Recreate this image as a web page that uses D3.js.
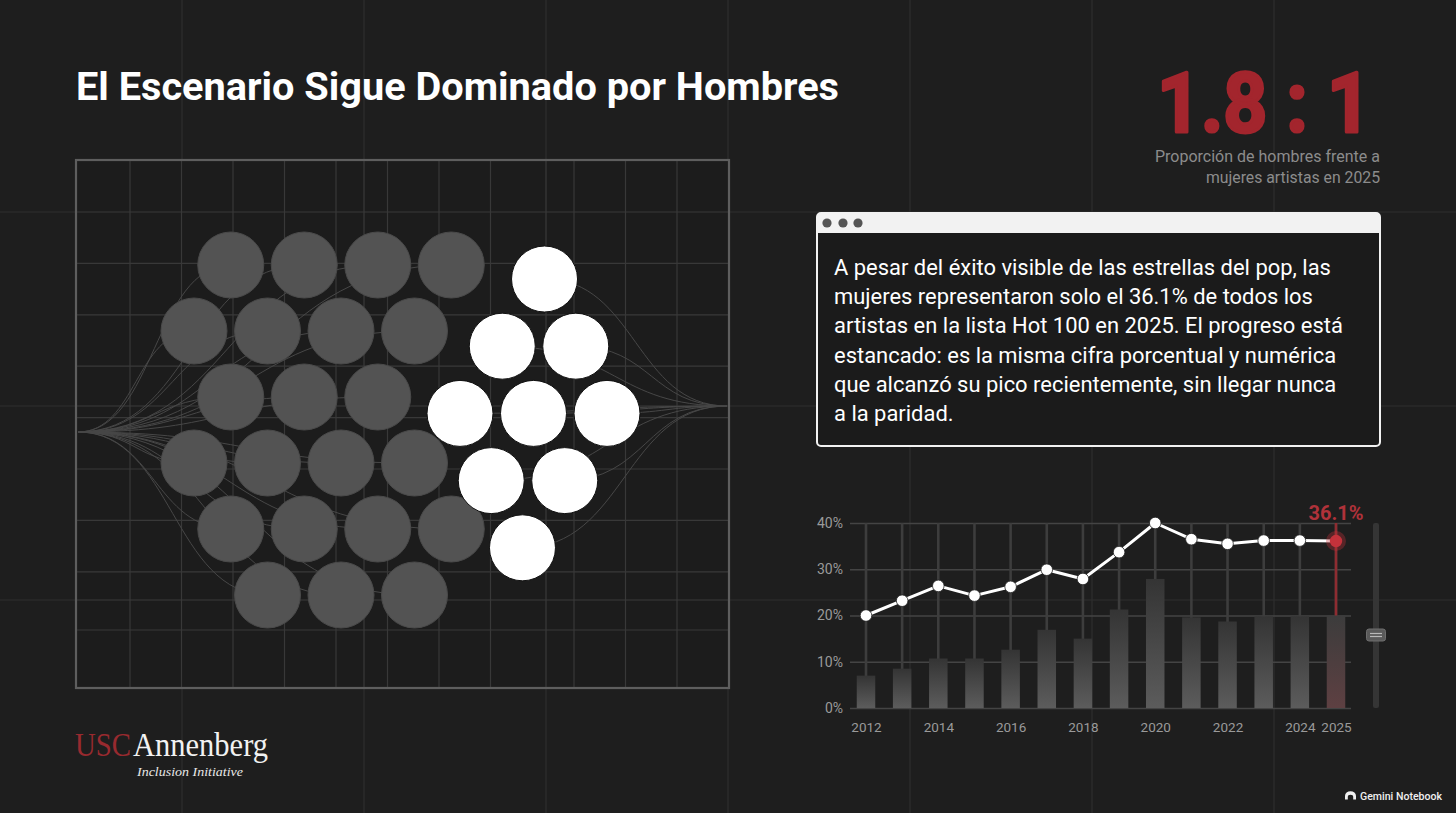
<!DOCTYPE html>
<html>
<head>
<meta charset="utf-8">
<script src="https://cdn.jsdelivr.net/npm/d3@7"></script>
<style>
  html, body { margin: 0; padding: 0; background: #1e1e1e; overflow: hidden; }
  svg { display: block; }
</style>
</head>
<body>
<svg id="chart" width="1456" height="813"></svg>
<script>
// ---- data ----
var years = [2012, 2013, 2014, 2015, 2016, 2017, 2018, 2019, 2020, 2021, 2022, 2023, 2024, 2025];
var womenShare = [20.0, 23.2, 26.4, 24.3, 26.2, 29.9, 27.9, 33.7, 40.0, 36.5, 35.5, 36.2, 36.2, 36.1];
var barValues = [7.0, 8.5, 10.7, 10.7, 12.6, 16.9, 15.0, 21.3, 27.9, 19.6, 18.7, 19.8, 19.8, 20.0];
var yTicks = [0, 10, 20, 30, 40];
var xTickYears = [2012, 2014, 2016, 2018, 2020, 2022, 2024, 2025];
var groupLabels = ["Hombres", "Mujeres"];
var groupDots = [22, 9];
var ratioLabel = "1.8 : 1";
var ratioNote = ["Proporción de hombres frente a", "mujeres artistas en 2025"];
var titleText = "El Escenario Sigue Dominado por Hombres";
var bodyLines = [
  "A pesar del éxito visible de las estrellas del pop, las",
  "mujeres representaron solo el 36.1% de todos los",
  "artistas en la lista Hot 100 en 2025. El progreso está",
  "estancado: es la misma cifra porcentual y numérica",
  "que alcanzó su pico recientemente, sin llegar nunca",
  "a la paridad."
];

var W = 1456, H = 813;
var svg = d3.select("#chart");
var defs = svg.append("defs");

svg.append("rect").attr("width", W).attr("height", H).attr("fill", "#1e1e1e");

// background page grid
var pageGrid = svg.append("g").attr("stroke", "#2e2e2e").attr("stroke-width", 1.2);
d3.range(182, W, 182).forEach(function(gx) {
  pageGrid.append("line").attr("x1", gx).attr("x2", gx).attr("y1", 0).attr("y2", H);
});
[212, 406, 600].forEach(function(gy) {
  pageGrid.append("line").attr("x1", 0).attr("x2", W).attr("y1", gy).attr("y2", gy);
});

// title
svg.append("text")
  .attr("x", 76).attr("y", 100)
  .attr("textLength", 763).attr("lengthAdjust", "spacingAndGlyphs")
  .style("font-family", "Roboto, 'Liberation Sans', sans-serif")
  .style("font-weight", 700).style("font-size", "38px")
  .attr("fill", "#ffffff")
  .text(titleText);

// ---- dot panel ----
var panel = svg.append("g");
panel.append("rect").attr("x", 76).attr("y", 160).attr("width", 653).attr("height", 528)
  .attr("fill", "#1c1c1c");
var innerGrid = panel.append("g").attr("stroke", "#383838").attr("stroke-width", 1.2);
d3.range(130, 500, 51.5).concat(d3.range(574, 720, 51.5)).forEach(function(gx) {
  innerGrid.append("line").attr("x1", gx).attr("x2", gx).attr("y1", 161).attr("y2", 687);
});
d3.range(212, 580, 51.4).concat([630]).forEach(function(gy) {
  innerGrid.append("line").attr("x1", 77).attr("x2", 728).attr("y1", gy).attr("y2", gy);
});
[364, 546].forEach(function(gx) {
  innerGrid.append("line").attr("x1", gx).attr("x2", gx).attr("y1", 161).attr("y2", 687).attr("stroke", "#3a3a3a");
});
[406, 600].forEach(function(gy) {
  innerGrid.append("line").attr("x1", 77).attr("x2", 728).attr("y1", gy).attr("y2", gy).attr("stroke", "#3a3a3a");
});

// hex-like lattice layouts for each group (rows: capacity, start column)
var layouts = [
  { rows: [[4, 1], [4, 0], [3, 1], [4, 0], [4, 1], [3, 2]], skew: 0,
    x: d3.scaleLinear().domain([0, 1]).range([194, 230.75]),
    y: d3.scaleLinear().domain([0, 1]).range([265, 331]) },
  { rows: [[1, 2], [2, 1], [3, 0], [2, 1], [1, 2]], skew: -0.15,
    x: d3.scaleLinear().domain([0, 1]).range([460, 496.75]),
    y: d3.scaleLinear().domain([0, 1]).range([279, 346.2]) }
];
var dots = [];
groupDots.forEach(function(n, gi) {
  var lay = layouts[gi], k = 0;
  lay.rows.forEach(function(row, ri) {
    for (var c = 0; c < row[0] && k < n; c++, k++) {
      var col = row[1] + 2 * c + lay.skew * (ri - 2);
      dots.push({ group: groupLabels[gi], gi: gi, cx: lay.x(col), cy: lay.y(ri) });
    }
  });
});

// flow lines behind the dots
var link = d3.linkHorizontal();
var flows = panel.append("g").attr("fill", "none").attr("stroke", "#474747").attr("stroke-width", 1);
dots.forEach(function(d) {
  var src = d.gi === 0 ? [78, 432] : [d.cx, d.cy];
  var dst = d.gi === 0 ? [d.cx, d.cy] : [727, 406];
  flows.append("path").attr("d", link({ source: src, target: dst }));
});

panel.selectAll("circle.dot").data(dots).enter().append("circle")
  .attr("class", "dot")
  .attr("cx", function(d) { return d.cx; })
  .attr("cy", function(d) { return d.cy; })
  .attr("r", 33)
  .attr("fill", function(d) { return d.gi === 0 ? "#535353" : "#ffffff"; })
  .attr("stroke", function(d) { return d.gi === 0 ? "#4a4a4a" : "#111"; })
  .attr("stroke-width", 1);

panel.append("rect").attr("x", 76).attr("y", 160).attr("width", 653).attr("height", 528)
  .attr("fill", "none").attr("stroke", "#5e5e5e").attr("stroke-width", 2.2);

// ---- ratio ----
svg.append("text")
  .attr("x", 1371).attr("y", 132).attr("text-anchor", "end")
  .attr("textLength", 214).attr("lengthAdjust", "spacingAndGlyphs")
  .style("font-family", "Roboto, 'Liberation Sans', sans-serif")
  .style("font-weight", 700).style("font-size", "84px")
  .attr("fill", "#a3252d").attr("stroke", "#a3252d").attr("stroke-width", 3.2)
  .attr("stroke-linejoin", "round")
  .text(ratioLabel);
var noteWidths = [225, 174];
ratioNote.forEach(function(t, i) {
  svg.append("text")
    .attr("x", 1380).attr("y", 162 + i * 20.5).attr("text-anchor", "end")
    .attr("textLength", noteWidths[i]).attr("lengthAdjust", "spacingAndGlyphs")
    .style("font-family", "Roboto, sans-serif").style("font-size", "16.5px")
    .attr("fill", "#8c8c8c")
    .text(t);
});

// ---- text card ----
var card = svg.append("g");
card.append("rect").attr("x", 817).attr("y", 213).attr("width", 563).attr("height", 233)
  .attr("rx", 4).attr("fill", "#1b1b1b").attr("stroke", "#f2f2f2").attr("stroke-width", 2);
card.append("path")
  .attr("d", "M817,233 V217 a4,4 0 0 1 4,-4 H1376 a4,4 0 0 1 4,4 V233 Z")
  .attr("fill", "#f2f2f2");
[827, 843, 858].forEach(function(cx) {
  card.append("circle").attr("cx", cx).attr("cy", 223).attr("r", 4.6).attr("fill", "#555");
});
var bodyG = card.append("g");
var bodyText = bodyG.selectAll("text").data(bodyLines).enter().append("text")
  .attr("x", 0).attr("y", function(d, i) { return 275 + i * 29.2; })
  .style("font-family", "Roboto, sans-serif").style("font-size", "21.5px")
  .attr("fill", "#ffffff")
  .text(function(d) { return d; });
var w1 = bodyText.node().getComputedTextLength();
bodyG.attr("transform", "translate(834,0) scale(" + (497 / w1) + ",1)");

// ---- line + bar chart ----
var x = d3.scaleLinear().domain([2012, 2025]).range([866, 1336]);
var y = d3.scaleLinear().domain([0, 40]).range([708, 523]);
var chart = svg.append("g");

var yAxis = chart.append("g").attr("transform", "translate(850,0)")
  .call(d3.axisLeft(y).tickValues(yTicks).tickSize(-501).tickPadding(7)
    .tickFormat(function(d) { return d + "%"; }));
yAxis.select(".domain").remove();
yAxis.selectAll(".tick line").attr("stroke", "#444").attr("stroke-width", 1.5);
yAxis.selectAll(".tick text").attr("fill", "#9a9a9a")
  .style("font-family", "Roboto, sans-serif").style("font-size", "14px");

// vertical year rails
chart.append("g").selectAll("line").data(years).enter().append("line")
  .attr("x1", function(d) { return x(d); }).attr("x2", function(d) { return x(d); })
  .attr("y1", y(40)).attr("y2", y(0))
  .attr("stroke", "#3d3d3d").attr("stroke-width", 2.6);

var grad = defs.append("linearGradient").attr("id", "barGrad").attr("x1", 0).attr("x2", 0).attr("y1", 0).attr("y2", 1);
grad.append("stop").attr("offset", "0%").attr("stop-color", "#343434");
grad.append("stop").attr("offset", "100%").attr("stop-color", "#5c5c5c");
var gradR = defs.append("linearGradient").attr("id", "barGradRed").attr("x1", 0).attr("x2", 0).attr("y1", 0).attr("y2", 1);
gradR.append("stop").attr("offset", "0%").attr("stop-color", "#3c3c3c");
gradR.append("stop").attr("offset", "100%").attr("stop-color", "#5e4042");

var bw = 18.5;
chart.append("g").selectAll("rect").data(years).enter().append("rect")
  .attr("x", function(d) { return x(d) - bw / 2; })
  .attr("y", function(d, i) { return y(barValues[i]); })
  .attr("width", bw)
  .attr("height", function(d, i) { return y(0) - y(barValues[i]); })
  .attr("fill", function(d, i) { return i === years.length - 1 ? "url(#barGradRed)" : "url(#barGrad)"; });

var last = years.length - 1;
chart.append("line")
  .attr("x1", x(years[last])).attr("x2", x(years[last]))
  .attr("y1", y(40)).attr("y2", y(barValues[last]))
  .attr("stroke", "#8e2c31").attr("stroke-width", 2.6);

var xAxis = chart.append("g").attr("transform", "translate(0,708)")
  .call(d3.axisBottom(x).tickValues(xTickYears).tickSize(0).tickPadding(14).tickFormat(d3.format("d")));
xAxis.select(".domain").remove();
xAxis.selectAll(".tick text").attr("fill", "#9a9a9a")
  .style("font-family", "Roboto, sans-serif").style("font-size", "13.5px");

var line = d3.line()
  .x(function(d, i) { return x(years[i]); })
  .y(function(d) { return y(d); });
chart.append("path").datum(womenShare)
  .attr("d", line).attr("fill", "none")
  .attr("stroke", "#ffffff").attr("stroke-width", 3).attr("stroke-linejoin", "round");

chart.append("g").selectAll("circle").data(womenShare.slice(0, last)).enter().append("circle")
  .attr("cx", function(d, i) { return x(years[i]); })
  .attr("cy", function(d) { return y(d); })
  .attr("r", 5.8).attr("fill", "#ffffff").attr("stroke", "#222").attr("stroke-width", 0.8);

chart.append("circle").attr("cx", x(years[last])).attr("cy", y(womenShare[last]))
  .attr("r", 10).attr("fill", "#c2303a").attr("opacity", 0.35);
chart.append("circle").attr("cx", x(years[last])).attr("cy", y(womenShare[last]))
  .attr("r", 6.2).attr("fill", "#c4323b");

chart.append("text")
  .attr("x", x(years[last])).attr("y", 520).attr("text-anchor", "middle")
  .style("font-family", "Roboto, sans-serif").style("font-weight", 700).style("font-size", "20px")
  .attr("fill", "#b0323a")
  .text(womenShare[last].toFixed(1) + "%");

// slider
chart.append("rect").attr("x", 1373).attr("y", y(40)).attr("width", 6).attr("height", y(0) - y(40))
  .attr("rx", 2).attr("fill", "#353535");
chart.append("rect").attr("x", 1366.5).attr("y", 629).attr("width", 19).attr("height", 12)
  .attr("rx", 2.5).attr("fill", "#5a5a5a").attr("stroke", "#6e6e6e");
[633.5, 636.5].forEach(function(ly) {
  chart.append("line").attr("x1", 1370).attr("x2", 1382).attr("y1", ly).attr("y2", ly)
    .attr("stroke", "#b8b8b8").attr("stroke-width", 1.2);
});

// ---- logo ----
svg.append("text").attr("x", 75).attr("y", 756)
  .attr("textLength", 56).attr("lengthAdjust", "spacingAndGlyphs")
  .style("font-family", "'Liberation Serif', 'DejaVu Serif', serif").style("font-size", "33px")
  .attr("fill", "#982a2f").text("USC");
svg.append("text").attr("x", 133).attr("y", 756)
  .attr("textLength", 135).attr("lengthAdjust", "spacingAndGlyphs")
  .style("font-family", "'Liberation Serif', 'DejaVu Serif', serif").style("font-size", "33px")
  .attr("fill", "#f2f2f2").text("Annenberg");
svg.append("text").attr("x", 137).attr("y", 776)
  .attr("textLength", 106).attr("lengthAdjust", "spacingAndGlyphs")
  .style("font-family", "'Liberation Serif', serif").style("font-style", "italic").style("font-size", "13px")
  .attr("fill", "#e8e8e8").text("Inclusion Initiative");

// ---- badge ----
svg.append("path")
  .attr("d", "M1345,799.5 L1345,796 A5.5,4.8 0 0 1 1356,796 L1356,799.5 L1353.2,799.5 L1353.2,797 A2.7,2.2 0 0 0 1347.8,797 L1347.8,799.5 Z")
  .attr("fill", "#f0f0f0");
svg.append("text").attr("x", 1360).attr("y", 799.5)
  .attr("textLength", 82).attr("lengthAdjust", "spacingAndGlyphs")
  .style("font-family", "Roboto, sans-serif").style("font-weight", 500).style("font-size", "10.5px")
  .attr("fill", "#f0f0f0").text("Gemini Notebook");
</script>
</body>
</html>
